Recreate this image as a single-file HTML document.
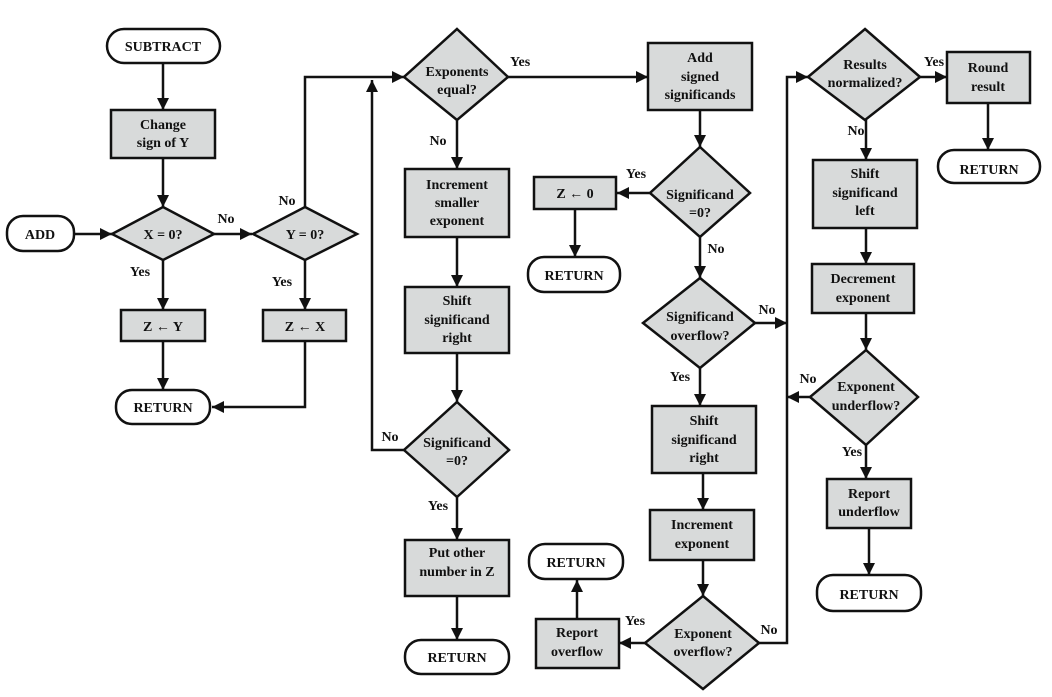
<!DOCTYPE html>
<html><head><meta charset="utf-8"><style>
html,body{margin:0;padding:0;background:#fff;}
svg{display:block;}
text{font-family:"Liberation Serif",serif;font-weight:bold;font-size:14px;fill:#111;text-anchor:middle;}
.l{text-anchor:start;}
.b{fill:#d8dada;stroke:#111;stroke-width:2.5;}
.t{fill:#fff;stroke:#111;stroke-width:2.5;}
.ln{fill:none;stroke:#111;stroke-width:2.5;}
</style></head><body>
<svg width="1052" height="697" viewBox="0 0 1052 697">
<defs><marker id="a" viewBox="0 0 10 10" refX="10" refY="5" markerWidth="5" markerHeight="5" orient="auto" markerUnits="userSpaceOnUse"><path d="M0,0L10,5L0,10z" fill="#111"/></marker></defs>
<defs><marker id="m" viewBox="0 0 10 10" refX="10" refY="5" markerWidth="12" markerHeight="12" orient="auto" markerUnits="userSpaceOnUse"><path d="M0,0L10,5L0,10z" fill="#111"/></marker></defs>
<g class="ln" marker-end="url(#m)">
<path d="M163,63V110"/>
<path d="M163,158V207"/>
<path d="M74,234H112"/>
<path d="M214,234H252"/>
<path d="M163,260V310"/>
<path d="M305,260V310"/>
<path d="M163,341V390"/>
<path d="M305,341V407H212"/>
<path d="M305,207V77H404"/>
<path d="M404,450H372V80"/>
<path d="M457,120V169"/>
<path d="M457,237V287"/>
<path d="M457,353V402"/>
<path d="M457,497V540"/>
<path d="M457,596V640"/>
<path d="M508,77H648"/>
<path d="M700,110V147"/>
<path d="M650,193H617"/>
<path d="M575,209V257"/>
<path d="M700,237V278"/>
<path d="M755,323H787"/>
<path d="M700,368V406"/>
<path d="M703,473V510"/>
<path d="M703,560V596"/>
<path d="M645,643H619"/>
<path d="M577,619V580"/>
<path d="M759,643H787V77H808"/>
<path d="M920,77H947"/>
<path d="M988,103V150"/>
<path d="M866,120V160"/>
<path d="M866,228V264"/>
<path d="M866,313V350"/>
<path d="M810,397H787"/>
<path d="M866,445V479"/>
<path d="M869,528V575"/>
</g>
<rect class="t" x="107" y="29" width="113" height="34" rx="17"/>
<rect class="t" x="7" y="216" width="67" height="35" rx="16"/>
<rect class="t" x="116" y="390" width="94" height="34" rx="16"/>
<rect class="t" x="405" y="640" width="104" height="34" rx="16"/>
<rect class="t" x="528" y="257" width="92" height="35" rx="16"/>
<rect class="t" x="529" y="544" width="94" height="35" rx="16"/>
<rect class="t" x="938" y="150" width="102" height="33" rx="16"/>
<rect class="t" x="817" y="575" width="104" height="36" rx="16"/>
<rect class="b" x="111" y="110" width="104" height="48"/>
<rect class="b" x="121" y="310" width="84" height="31"/>
<rect class="b" x="263" y="310" width="83" height="31"/>
<rect class="b" x="405" y="169" width="104" height="68"/>
<rect class="b" x="405" y="287" width="104" height="66"/>
<rect class="b" x="405" y="540" width="104" height="56"/>
<rect class="b" x="648" y="43" width="104" height="67"/>
<rect class="b" x="534" y="177" width="82" height="32"/>
<rect class="b" x="652" y="406" width="104" height="67"/>
<rect class="b" x="650" y="510" width="104" height="50"/>
<rect class="b" x="536" y="619" width="83" height="49"/>
<rect class="b" x="947" y="52" width="83" height="51"/>
<rect class="b" x="813" y="160" width="104" height="68"/>
<rect class="b" x="812" y="264" width="102" height="49"/>
<rect class="b" x="827" y="479" width="84" height="49"/>
<polygon class="b" points="163,207 214,234 163,260 112,234"/>
<polygon class="b" points="305,207 357,234 305,260 253,234"/>
<polygon class="b" points="457,29 508,77 457,120 404,77"/>
<polygon class="b" points="457,402 509,450 457,497 404,450"/>
<polygon class="b" points="700,147 750,193 700,237 650,193"/>
<polygon class="b" points="700,278 755,323 700,368 643,323"/>
<polygon class="b" points="703,596 759,643 703,689 645,643"/>
<polygon class="b" points="865,29 920,77 865,120 808,77"/>
<polygon class="b" points="866,350 918,397 866,445 810,397"/>
<text x="163" y="51">SUBTRACT</text>
<text x="40" y="239">ADD</text>
<text x="163" y="129">Change</text><text x="163" y="147">sign of Y</text>
<text x="163" y="239">X = 0?</text>
<text x="305" y="239">Y = 0?</text>
<text x="163" y="331">Z ← Y</text>
<text x="305" y="331">Z ← X</text>
<text x="163" y="412">RETURN</text>
<text x="226" y="223">No</text><text x="287" y="205">No</text>
<text x="140" y="276">Yes</text><text x="282" y="286">Yes</text>
<text x="457" y="76">Exponents</text><text x="457" y="94">equal?</text>
<text class="l" x="510" y="66">Yes</text>
<text x="438" y="145">No</text>
<text x="457" y="189">Increment</text><text x="457" y="207">smaller</text><text x="457" y="225">exponent</text>
<text x="457" y="305">Shift</text><text x="457" y="324">significand</text><text x="457" y="342">right</text>
<text x="457" y="447">Significand</text><text x="457" y="465">=0?</text>
<text x="390" y="441">No</text><text x="438" y="510">Yes</text>
<text x="457" y="557">Put other</text><text x="457" y="576">number in Z</text>
<text x="457" y="662">RETURN</text>
<text x="700" y="62">Add</text><text x="700" y="81">signed</text><text x="700" y="99">significands</text>
<text x="700" y="199">Significand</text><text x="700" y="217">=0?</text>
<text x="636" y="178">Yes</text><text x="716" y="253">No</text>
<text x="575" y="198">Z ←  0</text>
<text x="574" y="280">RETURN</text>
<text x="700" y="321">Significand</text><text x="700" y="340">overflow?</text>
<text x="767" y="314">No</text><text x="680" y="381">Yes</text>
<text x="704" y="425">Shift</text><text x="704" y="444">significand</text><text x="704" y="462">right</text>
<text x="702" y="529">Increment</text><text x="702" y="548">exponent</text>
<text x="703" y="638">Exponent</text><text x="703" y="656">overflow?</text>
<text x="635" y="625">Yes</text><text x="769" y="634">No</text>
<text x="577" y="637">Report</text><text x="577" y="656">overflow</text>
<text x="576" y="567">RETURN</text>
<text x="865" y="69">Results</text><text x="865" y="87">normalized?</text>
<text x="934" y="66">Yes</text><text x="856" y="135">No</text>
<text x="988" y="72">Round</text><text x="988" y="91">result</text>
<text x="989" y="174">RETURN</text>
<text x="865" y="178">Shift</text><text x="865" y="197">significand</text><text x="865" y="215">left</text>
<text x="863" y="283">Decrement</text><text x="863" y="302">exponent</text>
<text x="866" y="391">Exponent</text><text x="866" y="410">underflow?</text>
<text x="808" y="383">No</text><text x="852" y="456">Yes</text>
<text x="869" y="498">Report</text><text x="869" y="516">underflow</text>
<text x="869" y="599">RETURN</text>
</svg>
</body></html>
